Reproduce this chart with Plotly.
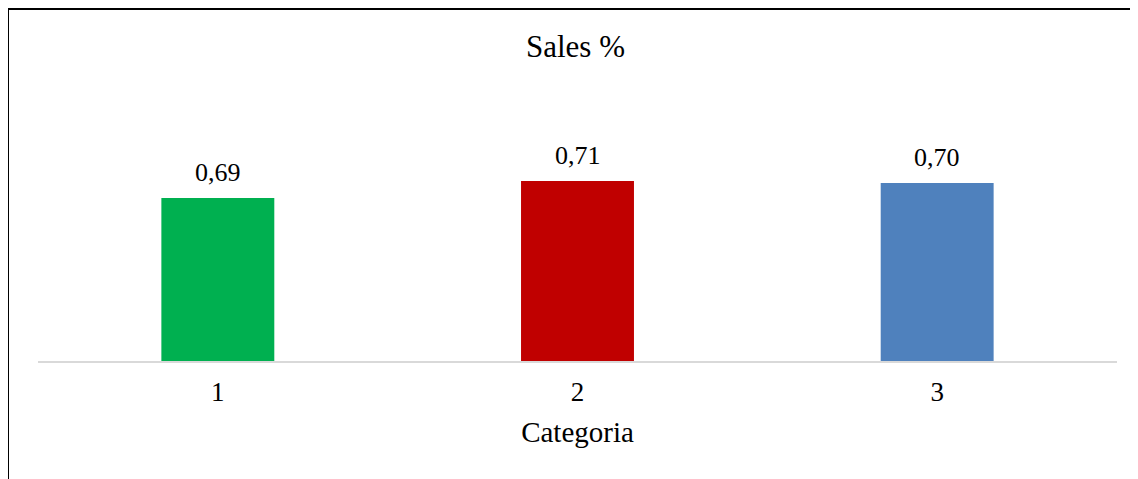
import plotly.graph_objects as go

categories = ["1", "2", "3"]
sales = [0.6925, 0.7055, 0.704]
labels = ["0,69", "0,71", "0,70"]
colors = ["#00B050", "#C00000", "#4F81BD"]
title_text = "Sales %"
x_title = "Categoria"

# the page body adds an 8px offset; compensate in figure coordinates
OFF = 8
W, H = 1138, 479
L, R, T, B = 38 - OFF, 29, 100 - OFF, 126
pw, ph = W - L - R, H - T - B
FONT = "Liberation Serif"

def px_x(p):
    return (p - OFF - L) / pw

def px_y(p):
    return (H - B - (p - OFF)) / ph

fig = go.Figure(go.Bar(
    x=categories, y=sales,
    marker=dict(color=colors, line=dict(width=0)),
    width=0.314,
    hoverinfo="skip",
))

# category axis: annotations are positioned by category index
for i, (v, t) in enumerate(zip(sales, labels)):
    fig.add_annotation(x=i, y=v, text=t, showarrow=False, xanchor="center",
                       yanchor="bottom", yshift=9,
                       font=dict(family=FONT, size=26, color="#000000"))

fig.update_layout(
    width=W, height=H,
    margin=dict(l=L, r=R, t=T, b=B, pad=0),
    paper_bgcolor="white", plot_bgcolor="white",
    showlegend=False,
    font=dict(family=FONT, color="#000000"),
    title=dict(text=title_text, xanchor="center",
               y=1 - (48 - OFF - 2) / H, yanchor="middle",
               font=dict(family=FONT, size=31, color="#000000")),
    xaxis=dict(type="category", range=[-0.5, len(categories) - 0.5],
               showline=True, linecolor="#D9D9D9", linewidth=1.5,
               showgrid=False, ticks="", ticklabelstandoff=6,
               tickfont=dict(size=27, family=FONT, color="#000000"),
               title=dict(text=x_title, font=dict(size=29, family=FONT, color="#000000"),
                          standoff=16)),
    yaxis=dict(visible=False, range=[0.5675, 0.7677], fixedrange=True),
    shapes=[
        dict(type="line", xref="paper", yref="paper", x0=px_x(8), x1=px_x(W + 5),
             y0=px_y(9), y1=px_y(9), line=dict(color="#000000", width=2)),
        dict(type="line", xref="paper", yref="paper", x0=px_x(8), x1=px_x(8),
             y0=px_y(9), y1=px_y(H + 5), line=dict(color="#000000", width=2)),
    ],
)
fig.layout.title.x = 0.5 + (576 - (OFF + L + pw / 2)) / W

fig.write_html("out.html")
